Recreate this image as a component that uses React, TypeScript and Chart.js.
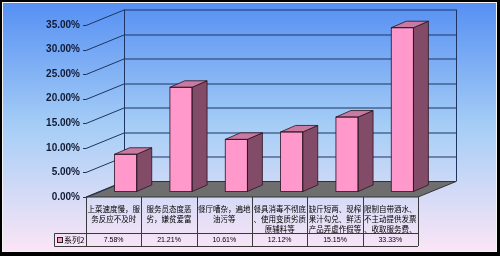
import React, { useEffect, useRef } from 'react';
import { Chart, registerables } from 'chart.js';

Chart.register(...registerables);

const categories: string[][] = [
  ['上菜速度慢，服', '务反应不及时'],
  ['服务员态度恶', '劣，嫌贫爱富'],
  ['餐厅嘈杂，遍地', '油污等'],
  ['餐具消毒不彻底', '、使用变质劣质', '原辅料等'],
  ['缺斤短两、现榨', '果汁勾兑、鲜活', '产品弄虚作假等'],
  ['限制自带酒水、', '不主动提供发票', '、收取服务费、'],
];
const seriesName = '系列2';
const values = [7.58, 21.21, 10.61, 12.12, 15.15, 33.33];
const yTicks = [0, 5, 10, 15, 20, 25, 30, 35];

const DEPTH_X = 38;
const DEPTH_Y = 15.5;
const BAR_OX = 12;
const BAR_OY = -5.5;
const SIDE_X = 15;
const SIDE_Y = -6.5;

const GRID = '#1d3560';
const LINE = '#3a3a3a';

const threeD = {
  id: 'threeD',
  beforeDraw(chart: any) {
    const { ctx, chartArea: a, scales } = chart;
    const ys = scales.y;
    const W = chart.width;
    const H = chart.height;
    ctx.save();
    // frame
    ctx.fillStyle = '#000';
    ctx.fillRect(0, 0, W, H);
    ctx.fillStyle = '#f4f4f4';
    ctx.fillRect(2, 2, W - 5, H - 6);
    const g = ctx.createLinearGradient(0, 3, 0, H - 5);
    g.addColorStop(0, '#5690f3');
    g.addColorStop(0.5, '#a6cef6');
    g.addColorStop(1, '#fbe5f6');
    ctx.fillStyle = g;
    ctx.fillRect(3, 3, W - 7, H - 8);

    const y0 = ys.getPixelForValue(0);
    const yTop = ys.getPixelForValue(yTicks[yTicks.length - 1]);
    const bl = a.left + DEPTH_X;
    const br = a.right + DEPTH_X;

    // floor
    ctx.beginPath();
    ctx.moveTo(a.left, y0);
    ctx.lineTo(a.right, y0);
    ctx.lineTo(br, y0 - DEPTH_Y);
    ctx.lineTo(bl, y0 - DEPTH_Y);
    ctx.closePath();
    ctx.fillStyle = '#6e6e6e';
    ctx.fill();
    ctx.strokeStyle = '#333';
    ctx.lineWidth = 1;
    ctx.stroke();

    // gridlines on walls
    ctx.strokeStyle = GRID;
    ctx.lineWidth = 1;
    for (const v of yTicks) {
      const yy = Math.round(ys.getPixelForValue(v)) + 0.5;
      ctx.beginPath();
      ctx.moveTo(a.left - 3, yy);
      ctx.lineTo(a.left, yy);
      ctx.lineTo(bl, yy - DEPTH_Y);
      if (v !== 0) ctx.lineTo(br, yy - DEPTH_Y);
      ctx.stroke();
    }
    // wall edges
    ctx.beginPath();
    ctx.moveTo(Math.round(bl) + 0.5, yTop - DEPTH_Y);
    ctx.lineTo(Math.round(bl) + 0.5, y0 - DEPTH_Y);
    ctx.moveTo(Math.round(br) + 0.5, yTop - DEPTH_Y);
    ctx.lineTo(Math.round(br) + 0.5, y0 - DEPTH_Y);
    ctx.stroke();

    // tick labels
    ctx.fillStyle = '#111a33';
    ctx.font = 'bold 10px "Liberation Sans", Arial, sans-serif';
    ctx.textAlign = 'right';
    ctx.textBaseline = 'middle';
    for (const v of yTicks) {
      ctx.fillText(v.toFixed(2) + '%', a.left - 6, ys.getPixelForValue(v));
    }

    // data table
    const n = categories.length;
    const cw = (a.right - a.left) / n;
    const rowLabelBottom = y0 + 36;
    const rowValBottom = rowLabelBottom + 13;
    const legLeft = a.left - 32;
    ctx.strokeStyle = LINE;
    ctx.beginPath();
    for (let i = 0; i <= n; i++) {
      const xx = Math.round(a.left + cw * i) + 0.5;
      ctx.moveTo(xx, y0);
      ctx.lineTo(xx, rowValBottom);
    }
    ctx.moveTo(legLeft + 0.5, rowLabelBottom + 0.5);
    ctx.lineTo(a.right, rowLabelBottom + 0.5);
    ctx.moveTo(legLeft + 0.5, rowValBottom + 0.5);
    ctx.lineTo(a.right, rowValBottom + 0.5);
    ctx.moveTo(legLeft + 0.5, rowLabelBottom + 0.5);
    ctx.lineTo(legLeft + 0.5, rowValBottom + 0.5);
    ctx.stroke();

    ctx.fillStyle = '#000';
    ctx.textAlign = 'center';
    ctx.textBaseline = 'middle';
    ctx.font = '7.5px "Noto Sans CJK SC", sans-serif';
    categories.forEach((lines, i) => {
      const cx = a.left + cw * (i + 0.5);
      lines.forEach((ln, j) => {
        ctx.fillText(ln, cx, y0 + 12.5 + j * 9.8);
      });
    });
    ctx.font = '7px "Liberation Sans", Arial, sans-serif';
    values.forEach((v, i) => {
      const cx = a.left + cw * (i + 0.5);
      ctx.fillText(v.toFixed(2) + '%', cx, rowLabelBottom + 7);
    });
    // legend cell
    ctx.fillStyle = '#ff99cc';
    ctx.fillRect(legLeft + 3.5, rowLabelBottom + 4.5, 5, 5);
    ctx.strokeStyle = '#222';
    ctx.strokeRect(legLeft + 3.5, rowLabelBottom + 4.5, 5, 5);
    ctx.fillStyle = '#000';
    ctx.textAlign = 'left';
    ctx.font = '8px "Noto Sans CJK SC", sans-serif';
    ctx.fillText(seriesName, legLeft + 10, rowLabelBottom + 7);
    ctx.restore();
  },
  beforeDatasetsDraw(chart: any) {
    chart.ctx.save();
    chart.ctx.translate(BAR_OX, BAR_OY);
  },
  afterDatasetsDraw(chart: any) {
    const ctx = chart.ctx;
    ctx.restore();
    const meta = chart.getDatasetMeta(0);
    ctx.save();
    ctx.lineWidth = 0.8;
    ctx.strokeStyle = '#2a1420';
    meta.data.forEach((el: any) => {
      const { x, y, base, width } = el.getProps(['x', 'y', 'base', 'width'], true);
      const xl = x - width / 2 + BAR_OX;
      const xr = x + width / 2 + BAR_OX;
      const yt = y + BAR_OY;
      const yb = base + BAR_OY;
      // side
      ctx.beginPath();
      ctx.moveTo(xr, yt);
      ctx.lineTo(xr + SIDE_X, yt + SIDE_Y);
      ctx.lineTo(xr + SIDE_X, yb + SIDE_Y);
      ctx.lineTo(xr, yb);
      ctx.closePath();
      ctx.fillStyle = '#824c68';
      ctx.fill();
      ctx.stroke();
      // top
      ctx.beginPath();
      ctx.moveTo(xl, yt);
      ctx.lineTo(xr, yt);
      ctx.lineTo(xr + SIDE_X, yt + SIDE_Y);
      ctx.lineTo(xl + SIDE_X, yt + SIDE_Y);
      ctx.closePath();
      ctx.fillStyle = '#c97aa2';
      ctx.fill();
      ctx.stroke();
      // front outline
      ctx.strokeRect(xl, yt, xr - xl, yb - yt);
    });
    ctx.restore();
  },
};

export default function App() {
  const ref = useRef<HTMLCanvasElement>(null);
  useEffect(() => {
    document.body.style.margin = '0';
    const chart = new Chart(ref.current!, {
      type: 'bar',
      data: {
        labels: categories,
        datasets: [
          {
            label: seriesName,
            data: values,
            backgroundColor: '#ff99cc',
            borderWidth: 0,
            barPercentage: 0.8,
            categoryPercentage: 0.5,
            clip: false as any,
          },
        ],
      },
      options: {
        responsive: false,
        animation: false,
        devicePixelRatio: 1,
        layout: { padding: { left: 86, right: 82, top: 25, bottom: 59 } },
        plugins: { legend: { display: false }, tooltip: { enabled: false } },
        scales: {
          x: { display: false, offset: true },
          y: { display: false, min: 0, max: 35 },
        },
      },
      plugins: [threeD],
    });
    return () => chart.destroy();
  }, []);
  return (
    <div style={{ width: 500, height: 256 }}>
      <canvas ref={ref} width={500} height={256} style={{ display: 'block' }} />
    </div>
  );
}
